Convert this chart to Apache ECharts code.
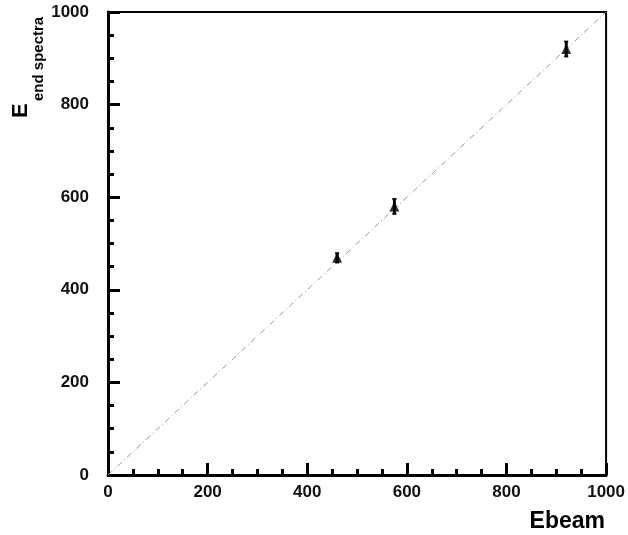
<!DOCTYPE html>
<html>
<head>
<meta charset="utf-8">
<script src="https://cdn.jsdelivr.net/npm/echarts@6/dist/echarts.min.js"></script>
<style>
  html, body { margin: 0; padding: 0; background: #fff; }
  #chart { width: 628px; height: 535px; }
</style>
</head>
<body>
<div id="chart"></div>
<script>
// data
var ebeam = [460, 575, 920];
var eEnd = [469, 580, 920];
var eErr = [10, 16, 16];
var diagonal = [[0, 0], [1000, 1000]];
var tickValues = [0, 200, 400, 600, 800, 1000];

var chart = echarts.init(document.getElementById('chart'));

var points = ebeam.map(function (x, i) { return [x, eEnd[i]]; });
var bars = ebeam.map(function (x, i) { return [x, eEnd[i] - eErr[i], eEnd[i] + eErr[i]]; });

var labelFont = {
  color: '#111', fontFamily: 'Liberation Sans, Arial', fontWeight: 'bold', fontSize: 17,
  formatter: function (v) { return tickValues.indexOf(v) >= 0 ? String(v) : ''; }
};

chart.setOption({
  animation: false,
  grid: {
    left: 108, right: 20, top: 12, bottom: 60,
    show: true, borderColor: '#000', borderWidth: 2
  },
  xAxis: {
    type: 'value', min: 0, max: 1000, interval: 200,
    axisLine: { lineStyle: { color: '#000', width: 3 } },
    axisTick: { inside: true, length: 12, lineStyle: { width: 3, color: '#000' } },
    minorTick: { show: true, splitNumber: 4, length: 6, lineStyle: { width: 3, color: '#000' } },
    splitLine: { show: false },
    axisLabel: Object.assign({ margin: 9 }, labelFont)
  },
  yAxis: {
    type: 'value', min: 0, max: 1000, interval: 200,
    axisLine: { lineStyle: { color: '#000', width: 3 } },
    axisTick: { inside: true, length: 12, lineStyle: { width: 3, color: '#000' } },
    minorTick: { show: true, splitNumber: 4, length: 6, lineStyle: { width: 3, color: '#000' } },
    splitLine: { show: false },
    axisLabel: Object.assign({ margin: 19 }, labelFont)
  },
  graphic: [
    {
      type: 'text', x: 21, y: 118, rotation: Math.PI / 2,
      style: { text: 'E', fill: '#000', font: 'bold 22px "Liberation Sans", Arial', textAlign: 'left', textVerticalAlign: 'middle' }
    },
    {
      type: 'text', x: 39, y: 101, rotation: Math.PI / 2,
      style: { text: 'end spectra', fill: '#000', font: 'bold 15px "Liberation Sans", Arial', textAlign: 'left', textVerticalAlign: 'middle' }
    },
    {
      type: 'text', x: 605, y: 522,
      style: { text: 'Ebeam', fill: '#000', font: 'bold 23px "Liberation Sans", Arial', textAlign: 'right', textVerticalAlign: 'middle' }
    }
  ],
  series: [
    {
      // y = x reference
      type: 'line',
      data: diagonal,
      symbol: 'none',
      lineStyle: { color: '#999', width: 1, type: [6, 3, 1, 3] },
      z: 1
    },
    {
      type: 'custom',
      data: bars,
      renderItem: function (params, api) {
        var lo = api.coord([api.value(0), api.value(1)]);
        var hi = api.coord([api.value(0), api.value(2)]);
        var w = 2;
        var st = { stroke: '#000', lineWidth: 2 };
        return {
          type: 'group',
          children: [
            { type: 'line', shape: { x1: lo[0], y1: lo[1], x2: hi[0], y2: hi[1] }, style: { stroke: '#000', lineWidth: 3 } },
            { type: 'line', shape: { x1: lo[0] - w, y1: lo[1], x2: lo[0] + w, y2: lo[1] }, style: st },
            { type: 'line', shape: { x1: hi[0] - w, y1: hi[1], x2: hi[0] + w, y2: hi[1] }, style: st }
          ]
        };
      },
      z: 3
    },
    {
      type: 'scatter',
      data: points,
      symbol: 'triangle',
      symbolSize: 10,
      itemStyle: { color: '#000' },
      z: 4
    }
  ]
});
</script>
</body>
</html>
